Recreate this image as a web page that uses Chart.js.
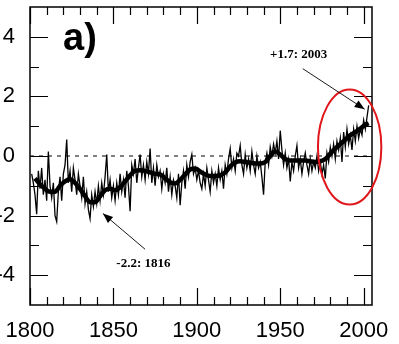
<!DOCTYPE html>
<html><head><meta charset="utf-8">
<script src="https://cdn.jsdelivr.net/npm/chart.js@4"></script>
<style>html,body{margin:0;padding:0;background:#fff;overflow:hidden}#wrap{width:399px;height:344px}</style>
</head><body><div id="wrap"><canvas id="c" width="399" height="344"></canvas></div>
<script>
// ---- data ----
const startYear = 1801;
const annualValues = [
  -0.6, -0.9, -1.3, -1.95, -0.5, -1.1, -0.4, -1.3, -0.8, -1.5,
  0.15, -1.0, -1.4, -0.9, -2.0, -2.2, -1.2, -0.7, -1.5, -0.6,
  -0.3, 0.55, -0.9, -0.5, -1.2, -0.4, -0.8, -1.3, -0.6, -1.0,
  -1.4, -0.7, -1.6, -1.2, -1.8, -2.1, -1.3, -1.7, -1.2, -1.6,
  -1.0, -1.5, -0.9, -1.3, -0.7, 0.05, -1.2, -0.8, -1.4, -1.0,
  -1.5, -0.9, -1.3, -0.6, -1.2, -0.8, -1.4, -0.5, -1.0, -1.85,
  -0.3, -0.6, -0.1, -0.9, -0.4, 0.05, -0.7, -0.3, -0.8, -0.2,
  -0.6, 0.25, -0.9, -0.4, -1.0, -0.3, -0.7, -0.5, -1.1, -0.6,
  -0.9, -0.4, -1.2, -0.7, -1.3, -0.8, -1.0, -1.4, -0.6, -1.65,
  -0.9, -0.5, -1.1, -0.3, -0.7, -0.2, 0.05, -0.6, -0.4, -0.8,
  -0.5, -0.9, -1.1, -0.6, -1.0, -0.4, -0.8, -1.2, -0.5, -0.9,
  -0.6, -1.0, -0.4, -0.8, -0.5, -1.1, -0.3, -0.6, -0.1, 0.25,
  -0.4, -0.1, -0.5, 0.1, 0.0, 0.35, -0.3, -0.6, 0.05, -0.4,
  -0.1, -0.5, 0.15, -0.3, -0.6, 0.0, -0.4, -0.2, -0.7, -1.3,
  -0.2, 0.1, -0.3, 0.3, 0.0, 0.4, 0.1, 0.5, -0.1, 0.85,
  0.2, -0.3, 0.1, -0.4, -0.1, -0.85, -0.2, -0.5, 0.0, 0.35,
  -0.4, -0.1, -0.6, -0.2, 0.1, -0.3, -0.6, -0.1, -0.5, -0.2,
  -0.4, 0.0, -0.5, -0.2, -0.6, -0.3, -0.75, 0.1, -0.2, 0.3,
  0.0, 0.4, -0.1, 0.5, 0.2, 0.6, -0.2, 0.8, 0.3, 0.9,
  0.4, 0.7, 0.2, 0.9, 0.5, 1.0, 0.6, 0.9, 0.7, 1.2,
  0.9, 1.3, 1.7
];
const smoothYears = [
  1803,1806,1809,1812,1815,1818,1821,1824,1827,1830,
  1833,1836,1839,1842,1845,1848,1851,1854,1857,1860,
  1863,1866,1869,1872,1875,1878,1881,1884,1887,1890,
  1893,1896,1899,1902,1905,1908,1911,1914,1917,1920,
  1923,1926,1929,1932,1935,1938,1941,1944,1947,1950,
  1953,1956,1959,1962,1965,1968,1971,1974,1977,1980,
  1983,1986,1989,1992,1995,1998,2001,2003
];
const smoothValues = [
  -0.75,-0.95,-1.1,-1.2,-1.2,-1.0,-0.85,-0.78,-0.9,-1.1,
  -1.35,-1.55,-1.55,-1.35,-1.15,-1.1,-1.15,-1.05,-0.85,-0.65,
  -0.5,-0.48,-0.5,-0.55,-0.6,-0.62,-0.75,-0.88,-0.92,-0.8,
  -0.62,-0.45,-0.42,-0.52,-0.62,-0.67,-0.67,-0.65,-0.55,-0.35,
  -0.22,-0.18,-0.2,-0.22,-0.25,-0.25,-0.2,0.0,0.15,0.05,
  -0.1,-0.15,-0.15,-0.15,-0.15,-0.18,-0.2,-0.18,-0.1,0.08,
  0.25,0.4,0.55,0.7,0.8,0.92,1.05,1.1
];
const xTickLabels = [1800, 1850, 1900, 1950, 2000];
const yTickLabels = [-4, -2, 0, 2, 4];
const zeroLineYears = [1800, 2005];
const zeroLineValues = [0, 0];
const panelLabel = 'a)';
const noteMax = '+1.7: 2003';
const noteMin = '-2.2: 1816';

// ---- build datasets ----
const annualPts = annualValues.map((v, i) => ({x: startYear + i, y: v}));
const smoothPts = smoothYears.map((yr, i) => ({x: yr, y: smoothValues[i]}));
const zeroPts = zeroLineYears.map((yr, i) => ({x: yr, y: zeroLineValues[i]}));

const FONT = '"Liberation Sans", Arial, Helvetica, sans-serif';

const decor = {
  id: 'decor',
  afterDatasetsDraw(chart) {
    const ctx = chart.ctx, a = chart.chartArea;
    const xs = chart.scales.x, ys = chart.scales.y;
    ctx.save();
    ctx.strokeStyle = '#000';
    // frame
    ctx.lineWidth = 1.5;
    ctx.strokeRect(a.left, a.top, a.right - a.left, a.bottom - a.top);
    // x ticks (inside, bottom and top)
    ctx.lineWidth = 1.2;
    for (let yr = 1800; yr <= 2005; yr += 10) {
      const px = Math.round(xs.getPixelForValue(yr)) + 0.5;
      const len = yr % 50 === 0 ? 17 : 8;
      ctx.beginPath();
      ctx.moveTo(px, a.bottom); ctx.lineTo(px, a.bottom - len);
      ctx.moveTo(px, a.top); ctx.lineTo(px, a.top + len);
      ctx.stroke();
    }
    // y ticks (inside, left and right)
    for (let v = -4; v <= 4; v += 1) {
      const py = Math.round(ys.getPixelForValue(v)) + 0.5;
      const len = v % 2 === 0 ? 18 : 9;
      ctx.beginPath();
      ctx.moveTo(a.left, py); ctx.lineTo(a.left + len, py);
      ctx.moveTo(a.right, py); ctx.lineTo(a.right - len, py);
      ctx.stroke();
    }
    // panel label
    ctx.fillStyle = '#000';
    ctx.font = 'bold 38px ' + FONT;
    ctx.textAlign = 'left';
    ctx.textBaseline = 'alphabetic';
    ctx.fillText(panelLabel, a.left + 33, a.top + 43);

    // red ellipse
    const cx = xs.getPixelForValue(1991.6), cy = ys.getPixelForValue(0.3);
    const rx = xs.getPixelForValue(1991.6 + 19) - cx;
    const ry = cy - ys.getPixelForValue(0.3 + 1.93);
    ctx.strokeStyle = '#e0161b';
    ctx.lineWidth = 2;
    ctx.beginPath();
    ctx.ellipse(cx, cy, rx, ry, 0, 0, Math.PI * 2);
    ctx.stroke();

    // annotations
    function arrow(x1, y1, x2, y2) {
      const p1 = [xs.getPixelForValue(x1), ys.getPixelForValue(y1)];
      const p2 = [xs.getPixelForValue(x2), ys.getPixelForValue(y2)];
      const ang = Math.atan2(p2[1] - p1[1], p2[0] - p1[0]);
      ctx.strokeStyle = '#000';
      ctx.fillStyle = '#000';
      ctx.lineWidth = 0.9;
      ctx.beginPath(); ctx.moveTo(p1[0], p1[1]); ctx.lineTo(p2[0], p2[1]); ctx.stroke();
      const L = 10, W = 4;
      ctx.beginPath();
      ctx.moveTo(p2[0], p2[1]);
      ctx.lineTo(p2[0] - L * Math.cos(ang) + W * Math.sin(ang), p2[1] - L * Math.sin(ang) - W * Math.cos(ang));
      ctx.lineTo(p2[0] - L * Math.cos(ang) - W * Math.sin(ang), p2[1] - L * Math.sin(ang) + W * Math.cos(ang));
      ctx.closePath(); ctx.fill();
    }
    arrow(1963.5, 2.93, 2000.6, 1.57);
    arrow(1869, -3.13, 1843.7, -1.93);
    ctx.fillStyle = '#000';
    ctx.font = 'bold 13px "Liberation Serif", "Times New Roman", serif';
    ctx.textAlign = 'center';
    ctx.textBaseline = 'middle';
    ctx.fillText(noteMax, xs.getPixelForValue(1961), ys.getPixelForValue(3.4));
    ctx.fillText(noteMin, xs.getPixelForValue(1868), ys.getPixelForValue(-3.6));
    ctx.restore();
  }
};

function zeroPad(s) { s.paddingTop = 0; s.paddingBottom = 0; s.paddingLeft = 0; s.paddingRight = 0; }

new Chart(document.getElementById('c'), {
  type: 'line',
  data: {
    datasets: [
      {data: zeroPts, borderColor: '#000', borderWidth: 1, borderDash: [4, 5], pointRadius: 0, fill: false},
      {data: annualPts, borderColor: '#000', borderWidth: 1.3, pointRadius: 0, tension: 0, fill: false},
      {data: smoothPts, borderColor: '#000', borderWidth: 4.5, pointRadius: 0, tension: 0.4, cubicInterpolationMode: 'monotone', fill: false}
    ]
  },
  options: {
    responsive: false,
    animation: false,
    devicePixelRatio: 1,
    layout: {padding: {top: 7, right: 27, left: 0, bottom: 0}},
    plugins: {legend: {display: false}, tooltip: {enabled: false}},
    scales: {
      x: {
        type: 'linear', min: 1800, max: 2005,
        grid: {display: false, drawTicks: false}, border: {display: false},
        afterBuildTicks: s => { s.ticks = xTickLabels.map(v => ({value: v})); },
        afterFit: s => { s.height = 39; zeroPad(s); },
        ticks: {autoSkip: false, maxRotation: 0, padding: 13, color: '#000',
          font: {family: FONT, size: 22}, callback: v => String(v)}
      },
      y: {
        type: 'linear', min: -5, max: 5,
        grid: {display: false, drawTicks: false}, border: {display: false},
        afterBuildTicks: s => { s.ticks = yTickLabels.map(v => ({value: v})); },
        afterFit: s => { s.width = 30; zeroPad(s); },
        ticks: {autoSkip: false, padding: 15, color: '#000',
          font: {family: FONT, size: 22}, callback: v => String(v)}
      }
    }
  },
  plugins: [decor]
});
</script>
</body></html>
